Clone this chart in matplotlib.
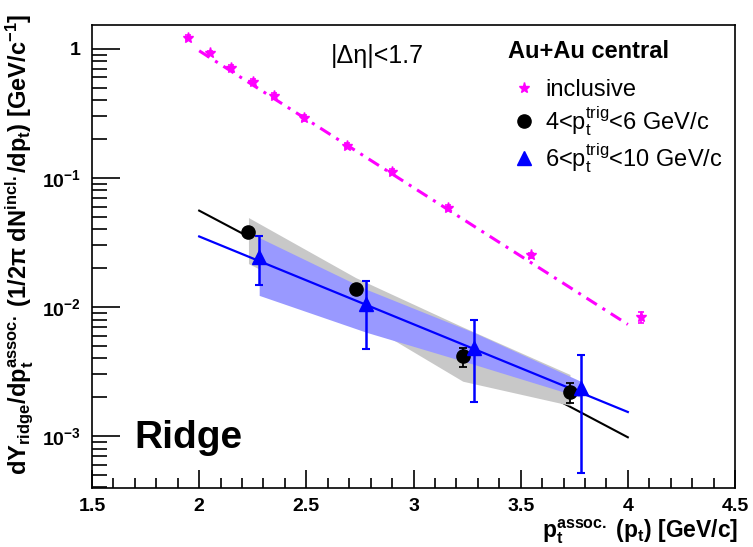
import numpy as np
import matplotlib
matplotlib.use("Agg")
import matplotlib.pyplot as plt
from matplotlib.lines import Line2D
from matplotlib.ticker import FixedLocator, FuncFormatter, LogLocator, MultipleLocator, NullFormatter

plt.rcParams['font.family'] = ['Liberation Sans', 'DejaVu Sans']
plt.rcParams['mathtext.fontset'] = 'custom'
plt.rcParams['mathtext.rm'] = 'Liberation Sans'
plt.rcParams['mathtext.it'] = 'Liberation Sans:italic'
plt.rcParams['mathtext.bf'] = 'Liberation Sans:bold'

# ---------------- data ----------------
incl_x = [1.95, 2.05, 2.15, 2.25, 2.35, 2.49, 2.69, 2.90, 3.16, 3.55, 4.06]
incl_y = [1.22, 0.93, 0.713, 0.556, 0.433, 0.292, 0.178, 0.112, 0.0589, 0.0251, 0.0083]
incl_err = [0.05, 0.04, 0.03, 0.024, 0.019, 0.014, 0.008, 0.005, 0.0028, 0.0013, 0.0008]

lo_x = [2.23, 2.73, 3.23, 3.73]          # 4<pt_trig<6
lo_y = [0.0378, 0.0139, 0.00415, 0.00219]
lo_err = [0.0015, 0.0008, 0.0007, 0.0004]
lo_sys_hi = [0.0493, 0.0169, 0.0070, 0.0030]
lo_sys_lo = [0.0217, 0.0083, 0.00266, 0.00173]

hi_x = [2.28, 2.78, 3.28, 3.78]          # 6<pt_trig<10
hi_y = [0.0246, 0.0105, 0.00479, 0.00235]
hi_err_up = [0.0106, 0.0053, 0.0031, 0.00187]
hi_err_dn = [0.0099, 0.0058, 0.00296, 0.00183]
hi_sys_hi = [0.0345, 0.0137, 0.00636, 0.00266]
hi_sys_lo = [0.0123, 0.00637, 0.0036, 0.0020]

# exponential fits: y = norm * 10**(slope*(x - 2)), drawn over fit_range
fit_range = [2.0, 4.0]
fit_incl = (0.966, -1.06)
fit_lo = (0.0558, -0.878)
fit_hi = (0.0352, -0.680)

xticks = [1.5, 2, 2.5, 3, 3.5, 4, 4.5]

# ---------------- figure ----------------
fig = plt.figure(figsize=(7.53, 5.47), dpi=100)
ax = fig.add_axes([92/753, 1-488/547, (735-92)/753, (488-25)/547])
ax.set_yscale('log')
ax.set_xlim(1.5, 4.5)
ax.set_ylim(3.96e-4, 1.53)

xf = np.linspace(fit_range[0], fit_range[1], 200)
def fitf(p):
    return p[0] * 10 ** (p[1] * (xf - 2.0))

magenta = '#ff00ff'
blue = '#0000ff'

ax.plot(xf, fitf(fit_lo), color='black', lw=1.5, zorder=1)
ax.fill_between(lo_x, lo_sys_lo, lo_sys_hi, color='#c8c8c8', lw=0, zorder=2)
ax.fill_between(hi_x, hi_sys_lo, hi_sys_hi, color='#9999ff', lw=0, zorder=3)
ax.plot(xf, fitf(fit_hi), color=blue, lw=1.6, zorder=4)
ax.plot(xf, fitf(fit_incl), color=magenta, lw=2.2, zorder=4,
        linestyle=(0, (4, 2.2, 1, 2.2)))

ax.errorbar(lo_x, lo_y, yerr=lo_err, fmt='o', color='black', ms=9.5,
            capsize=3, elinewidth=1.3, capthick=1.3, zorder=5)
ax.errorbar(hi_x, hi_y, yerr=[hi_err_dn, hi_err_up], fmt='^', color=blue, ms=9.5,
            capsize=3, elinewidth=1.8, capthick=1.5, zorder=6)
ax.errorbar(incl_x, incl_y, yerr=incl_err, fmt='*', color=magenta, ms=8,
            capsize=2, elinewidth=1.2, capthick=1.2, zorder=6)

# ---------------- axes style ----------------
for s in ['top', 'right', 'left', 'bottom']:
    ax.spines[s].set_linewidth(1.2)
ax.xaxis.set_major_locator(FixedLocator(xticks))
ax.xaxis.set_minor_locator(MultipleLocator(0.1))
ax.xaxis.set_major_formatter(FuncFormatter(lambda v, p: ('%g' % v)))
ax.yaxis.set_major_locator(LogLocator(base=10, numticks=10))
ax.yaxis.set_minor_locator(LogLocator(base=10, subs=np.arange(2, 10), numticks=20))
ax.yaxis.set_minor_formatter(NullFormatter())

def yfmt(v, p):
    e = int(round(np.log10(v)))
    if e == 0:
        return '1'
    return r'$\mathbf{10^{%d}}$' % e
ax.yaxis.set_major_formatter(FuncFormatter(yfmt))

ax.tick_params(axis='both', which='both', direction='in', top=False, right=False)
ax.tick_params(axis='y', which='major', length=20, width=1.2, pad=8, labelsize=14)
ax.tick_params(axis='y', which='minor', length=11, width=1.2)
ax.tick_params(axis='x', which='major', length=13, width=1.2, pad=7, labelsize=14)
ax.tick_params(axis='x', which='minor', length=7, width=1.2)
for lab in ax.get_xticklabels() + ax.get_yticklabels():
    lab.set_fontweight('bold')

# ---------------- texts ----------------
fig.text(20/753, 1-14/547,
         r'$\mathbf{dY_{ridge}/dp_{t}^{assoc.}\ (1/2\pi\ dN^{incl.}/dp_{t})\ [GeV/c^{-1}]}$',
         rotation=90, ha='center', va='top', fontsize=17)
fig.text(738/753, 1-537/547,
         r'$\mathbf{p_{t}^{assoc.}\ (p_{t})\ [GeV/c]}$',
         ha='right', va='baseline', fontsize=16.5)

ax.text(0.372, 0.932, '|Δη|<1.7', transform=ax.transAxes, fontsize=18,
        ha='left', va='center')
ax.text(0.066, 0.087, 'Ridge', transform=ax.transAxes, fontsize=28,
        fontweight='bold', ha='left', va='baseline')

ax.text((508-92)/643, 1-(52-25)/463, 'Au+Au central', transform=ax.transAxes,
        fontsize=17, fontweight='bold', ha='left', va='center')

handles = [
    Line2D([], [], marker='*', color=magenta, ls='none', ms=8),
    Line2D([], [], marker='o', color='black', ls='none', ms=9.5),
    Line2D([], [], marker='^', color=blue, ls='none', ms=9.5),
]
labels = ['inclusive',
          r'4<p$_{\mathrm{t}}^{\mathrm{trig}}$<6 GeV/c',
          r'6<p$_{\mathrm{t}}^{\mathrm{trig}}$<10 GeV/c']
leg = ax.legend(handles, labels, loc='upper left', bbox_to_anchor=(0.631, 0.918),
                frameon=False, fontsize=17, handlelength=0.8, handletextpad=0.5,
                labelspacing=0.12, borderpad=0.2)

fig.savefig('out.png', dpi=100)
